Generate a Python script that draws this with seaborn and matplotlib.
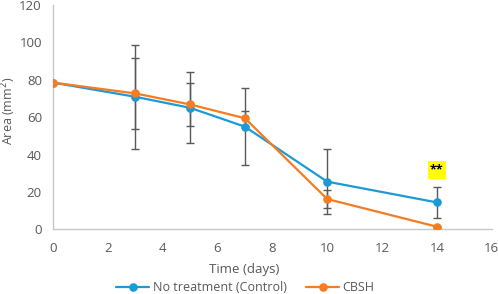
import matplotlib
matplotlib.use("Agg")
import matplotlib.pyplot as plt
import seaborn as sns
import pandas as pd

days = [0, 3, 5, 7, 10, 14]
control = [78.5, 70.9, 65.0, 54.9, 25.5, 14.4]
control_err = [0, 27.8, 19.0, 20.7, 17.3, 8.4]
cbsh = [78.5, 72.7, 66.8, 59.4, 16.2, 1.4]
cbsh_err = [0, 19.1, 11.5, 3.9, 5.0, 0]
series_names = ["No treatment (Control)", "CBSH"]
colors = ["#1C9AD6", "#F57C20"]

sns.set_style("white")
plt.rcParams['font.family'] = ['Open Sans', 'DejaVu Sans']

df = pd.DataFrame({
    "day": days * 2,
    "area": control + cbsh,
    "series": [series_names[0]] * len(days) + [series_names[1]] * len(days),
})

fig = plt.figure(figsize=(4.98, 2.94), dpi=100)
ax = fig.add_axes([0.1064, 0.22, 0.881, 0.763])

textc = "#595959"
errc = "#595959"
ax.errorbar(days, control, yerr=control_err, fmt="none", ecolor=errc,
            elinewidth=1.0, capsize=2.6, capthick=1.0, zorder=1)
ax.errorbar(days, cbsh, yerr=cbsh_err, fmt="none", ecolor=errc,
            elinewidth=1.0, capsize=2.6, capthick=1.0, zorder=1)

sns.lineplot(data=df, x="day", y="area", hue="series", palette=colors,
             marker="o", markersize=6.2, markeredgewidth=0, linewidth=1.6,
             ax=ax, zorder=3, legend=True)

ax.set_xlim(0, 16)
ax.set_ylim(0, 120)
ax.set_xticks(range(0, 17, 2))
ax.set_yticks(range(0, 121, 20))
ax.tick_params(axis="x", length=0, colors=textc, labelsize=9.5, pad=9)
ax.tick_params(axis="y", length=0, colors=textc, labelsize=9.5, pad=8)
for s in ["top", "right"]:
    ax.spines[s].set_visible(False)
for s in ["left", "bottom"]:
    ax.spines[s].set_color("#C8C8C8")
    ax.spines[s].set_linewidth(1.0)

ax.set_xlabel("Time (days)", color=textc, fontsize=9.5)
ax.set_ylabel("Area (mm$^2$)", color=textc, fontsize=9, va="center")
ax.xaxis.set_label_coords(0.4355, -0.152)
ax.yaxis.set_label_coords(-0.1, 0.53)

ax.text(14, 31.7, "**", ha="center", va="center", fontsize=9, fontweight="bold",
        color="black", bbox=dict(boxstyle="square,pad=0.2", fc="#FFFF00", ec="none"))

handles, labels = ax.get_legend_handles_labels()
ax.legend_.remove()
leg = fig.legend(handles, labels, loc="center", ncol=2, frameon=False,
                 bbox_to_anchor=(0.493, 0.022), fontsize=9, handlelength=2.6,
                 columnspacing=1.6, handletextpad=0.3)
for t in leg.get_texts():
    t.set_color(textc)

fig.savefig("out.png", dpi=100)
